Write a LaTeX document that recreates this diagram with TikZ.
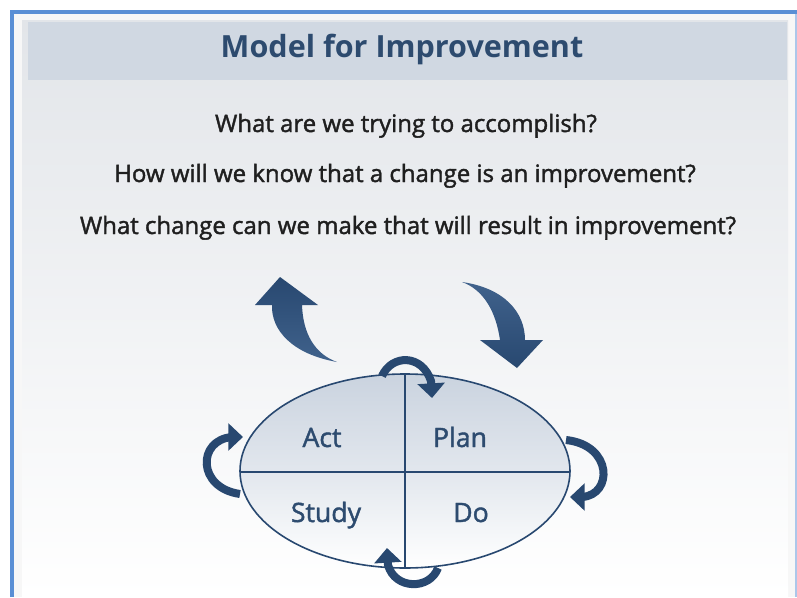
\documentclass[tikz,border=0pt]{standalone}
\usepackage{fontspec}
\setmainfont{Open Sans}
\newfontfamily\heavyfont[FakeBold=1.6]{Open Sans}
\usepackage{xcolor}
\usepackage{tikz}
\usetikzlibrary{calc,arrows.meta,positioning}

\definecolor{frameblue}{HTML}{5A8FD5}
\definecolor{headband}{HTML}{D0D8E2}
\definecolor{paneltop}{HTML}{E2E5E9}
\definecolor{titleblue}{HTML}{2D4B6F}
\definecolor{arrowdark}{HTML}{284870}
\definecolor{arrowlight}{HTML}{40628C}
\definecolor{ovaltop}{HTML}{CAD3DF}

\begin{document}
\begin{tikzpicture}[x=0.75pt,y=-0.75pt]
            \tikzstyle{question}=[anchor=base,inner sep=0pt,font=\heavyfont\fontsize{18}{20}\selectfont,text=black!88]
            \tikzstyle{quarter}=[anchor=base,inner sep=0pt,font=\heavyfont\fontsize{20}{22}\selectfont,text=titleblue]
            \tikzstyle{turn}=[draw=arrowdark,line width=6pt,-{Triangle[width=20pt,length=11pt]}]
            \useasboundingbox (0,0) rectangle (797,597);
            \fill [white] (0,0) rectangle (797,597);
            % frame and panel
            \fill [black!3] (14,14) rectangle (797,597);
            \shade [top color=paneltop,bottom color=white] (22,20) rectangle (788,597);
            \fill [headband] (28,22) rectangle (787,80);
            \draw [frameblue,line width=3pt] (12,597) -- (12,12) -- (797,12);
            \draw [frameblue!50,line width=1pt] (796,14) -- (796,597);
            \node [anchor=base,inner sep=0pt,font=\fontsize{22.9}{24}\selectfont\bfseries,text=titleblue] (title) at (402,57) {Model for Improvement};
            % the three questions
            \node [question] (q1) at (406,132) {What are we trying to accomplish?};
            \node [question] (q2) at (405,182) {How will we know that a change is an improvement?};
            \node [question] (q3) at (408,234) {What change can we make that will result in improvement?};
            % big arrows
            \shade [top color=arrowdark,bottom color=arrowlight] (337,362) .. controls (292,354) and (271,330) .. (272,305) -- (255,305) -- (280,277) -- (318,305) -- (302,305) .. controls (303,334) and (315,354) .. (337,362) -- cycle;
            \shade [top color=arrowlight,bottom color=arrowdark] (462,282) .. controls (504,288) and (525,312) .. (525,340) -- (543,340) -- (517,368) -- (480,340) -- (500,340) .. controls (496,312) and (484,290) .. (462,282) -- cycle;
            % oval
            \shade [top color=ovaltop,bottom color=white,middle color=ovaltop!55] (405,471) ellipse (165 and 97);
            \draw [arrowdark,line width=1.2pt] (405,471) ellipse (165 and 97);
            \draw [arrowdark,line width=1.1pt] (405,374) -- (405,568);
            \draw [arrowdark,line width=1.1pt] (240,472) -- (570,472);
            \node [quarter] (act) at (322,447) {Act};
            \node [quarter] (plan) at (460,447) {Plan};
            \node [quarter] (study) at (326,522) {Study};
            \node [quarter] (do) at (471,522) {Do};
            % small turning arrows
            \draw [turn] (382,376) .. controls (392,354) and (422,354) .. (431,381) -- (432,398);
            \draw [turn] (240,494) .. controls (197,488) and (197,440) .. (232,437) -- (243,437);
            \draw [turn] (566,440) .. controls (613,445) and (613,495) .. (582,497) -- (570,497);
            \draw [turn] (438,568) .. controls (430,590) and (395,590) .. (388,565) -- (387,548);
\end{tikzpicture}
\end{document}
